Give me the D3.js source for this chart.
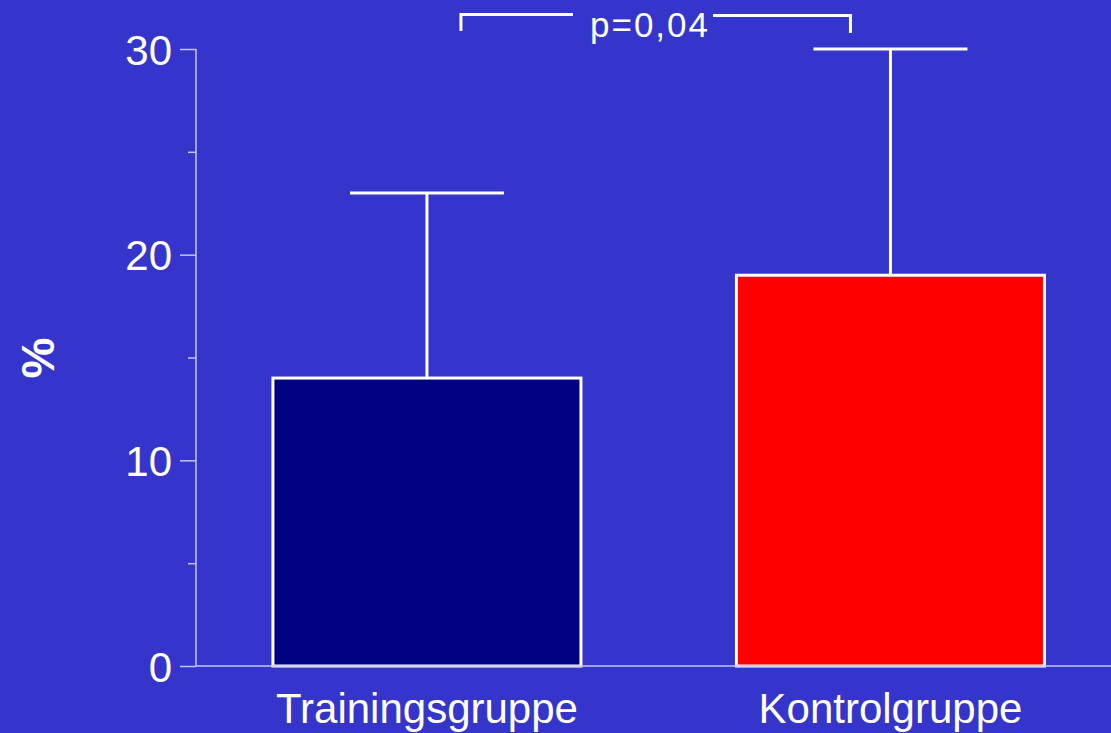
<!DOCTYPE html>
<html><head><meta charset="utf-8">
<script src="https://cdn.jsdelivr.net/npm/d3@7"></script>
<style>html,body{margin:0;padding:0;background:#3535CB;}svg{display:block;}</style>
</head><body>
<script>
const categories = ["Trainingsgruppe", "Kontrolgruppe"];
const means = [14, 19];
const upperErrors = [23, 30];
const barColors = ["#000080", "#FF0000"];
const yMajorTicks = [0, 10, 20, 30];
const yMinorTicks = [5, 15, 25];
const pLabel = "p=0,04";
const yLabel = "%";

const W = 1111, H = 733;
const svg = d3.select("body").append("svg").attr("width", W).attr("height", H);
svg.append("rect").attr("width", W).attr("height", H).attr("fill", "#3535CB");

const y = d3.scaleLinear().domain([0, 30]).range([666, 49]);
const x = d3.scaleBand().domain(categories).range([196, 1121.4]).paddingInner(0.3355).paddingOuter(0.166);

const axisColor = "#c4c4f0";
const font = "Liberation Sans, Arial, sans-serif";

// Bars
svg.selectAll("rect.bar").data(categories).enter().append("rect")
  .attr("class", "bar")
  .attr("x", d => x(d))
  .attr("y", (d, i) => y(means[i]))
  .attr("width", x.bandwidth())
  .attr("height", (d, i) => y(0) - y(means[i]))
  .attr("fill", (d, i) => barColors[i])
  .attr("stroke", "#ffffff").attr("stroke-width", 3);

// Error bars
categories.forEach((c, i) => {
  const cx = x(c) + x.bandwidth() / 2;
  svg.append("line").attr("x1", cx).attr("x2", cx)
    .attr("y1", y(means[i])).attr("y2", y(upperErrors[i]))
    .attr("stroke", "#fff").attr("stroke-width", 3);
  svg.append("line").attr("x1", cx - x.bandwidth() / 4).attr("x2", cx + x.bandwidth() / 4)
    .attr("y1", y(upperErrors[i])).attr("y2", y(upperErrors[i]))
    .attr("stroke", "#fff").attr("stroke-width", 3);
});

// Y axis
const yAxis = d3.axisLeft(y).tickValues(yMajorTicks).tickSize(16).tickPadding(8).tickFormat(d3.format("d"));
const ga = svg.append("g").attr("transform", "translate(196,0)").call(yAxis);
ga.select(".domain").attr("stroke", axisColor).attr("stroke-width", 1.5).attr("d", `M0,${y(0)}V${y(30)}`);
ga.selectAll(".tick line").attr("stroke", axisColor).attr("stroke-width", 1.5);
ga.selectAll(".tick text").attr("fill", "#fff").attr("font-family", font).attr("font-size", 42).attr("dy", "0.36em");
const gm = svg.append("g").attr("transform", "translate(196,0)")
  .call(d3.axisLeft(y).tickValues(yMinorTicks).tickSize(8).tickFormat(""));
gm.select(".domain").remove();
gm.selectAll(".tick line").attr("stroke", axisColor).attr("stroke-width", 1.5);

// X axis line
svg.append("line").attr("x1", 196).attr("x2", W).attr("y1", y(0)).attr("y2", y(0))
  .attr("stroke", axisColor).attr("stroke-width", 1.5);

// Category labels
svg.selectAll("text.cat").data(categories).enter().append("text")
  .attr("class", "cat")
  .attr("x", d => x(d) + x.bandwidth() / 2)
  .attr("y", 723)
  .attr("text-anchor", "middle").attr("fill", "#fff")
  .attr("font-family", font).attr("font-size", 42)
  .text(d => d);

// Y label
svg.append("text").attr("transform", "translate(54,358) rotate(-90)")
  .attr("text-anchor", "middle").attr("fill", "#fff")
  .attr("font-family", font).attr("font-size", 46).attr("font-weight", "bold")
  .text(yLabel);

// Significance bracket
const c0 = x(categories[0]) + x.bandwidth() / 2;
const c1 = x(categories[1]) + x.bandwidth() / 2;
const br = svg.append("g").attr("stroke", "#fff").attr("stroke-width", 3).attr("fill", "none");
br.append("path").attr("d", `M${c0 + 34},31V14.5H573`);
br.append("path").attr("d", `M713,15.5H${c1 - 40}V33`);
svg.append("text").attr("x", 590).attr("y", 37)
  .attr("fill", "#fff").attr("font-family", font).attr("font-size", 35)
  .attr("letter-spacing", 2)
  .text(pLabel);
</script>
</body></html>
